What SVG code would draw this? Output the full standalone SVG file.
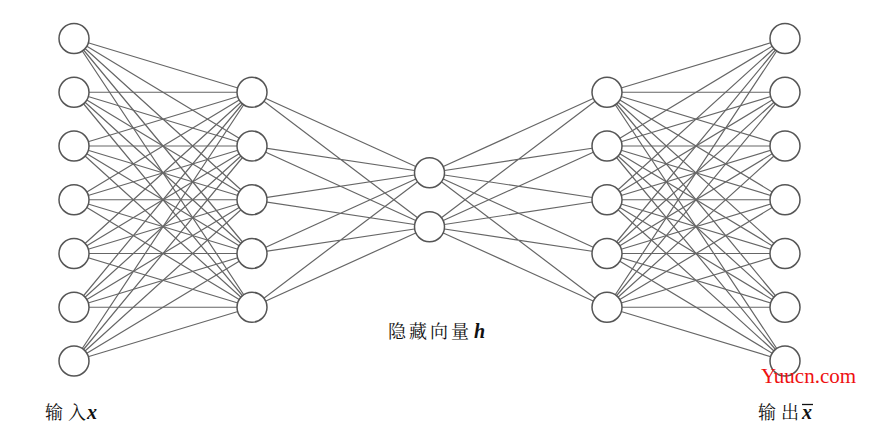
<svg xmlns="http://www.w3.org/2000/svg" width="870" height="432" viewBox="0 0 870 432">
<style>
.c{fill:#fff;stroke:#555;stroke-width:1.5}
.e{fill:none;stroke:#666;stroke-width:1.2}
.t{font-family:"Noto Serif CJK SC","Noto Sans CJK SC",serif;font-size:18px;fill:#111}
.m{font-family:"Liberation Serif",serif;font-style:italic;font-weight:bold;font-size:20px;fill:#111}
.w{font-family:"Liberation Serif",serif;font-size:21px;fill:#ee1111}
</style>
<rect width="870" height="432" fill="#fff"/>
<g id="connectors">
<path class="e" d="M74 38.5L252 92.25M74 38.5L252 146M74 38.5L252 199.75M74 38.5L252 253.5M74 38.5L252 307.25"/>
<path class="e" d="M74 92.25L252 92.25M74 92.25L252 146M74 92.25L252 199.75M74 92.25L252 253.5M74 92.25L252 307.25"/>
<path class="e" d="M74 146L252 92.25M74 146L252 146M74 146L252 199.75M74 146L252 253.5M74 146L252 307.25"/>
<path class="e" d="M74 199.75L252 92.25M74 199.75L252 146M74 199.75L252 199.75M74 199.75L252 253.5M74 199.75L252 307.25"/>
<path class="e" d="M74 253.5L252 92.25M74 253.5L252 146M74 253.5L252 199.75M74 253.5L252 253.5M74 253.5L252 307.25"/>
<path class="e" d="M74 307.25L252 92.25M74 307.25L252 146M74 307.25L252 199.75M74 307.25L252 253.5M74 307.25L252 307.25"/>
<path class="e" d="M74 361L252 92.25M74 361L252 146M74 361L252 199.75M74 361L252 253.5M74 361L252 307.25"/>
<path class="e" d="M252 92.25L429.5 172.75M252 92.25L429.5 226.75M252 146L429.5 172.75M252 146L429.5 226.75M252 199.75L429.5 172.75M252 199.75L429.5 226.75M252 253.5L429.5 172.75M252 253.5L429.5 226.75M252 307.25L429.5 172.75M252 307.25L429.5 226.75"/>
<path class="e" d="M429.5 172.75L607 92.25M429.5 172.75L607 146M429.5 172.75L607 199.75M429.5 172.75L607 253.5M429.5 172.75L607 307.25M429.5 226.75L607 92.25M429.5 226.75L607 146M429.5 226.75L607 199.75M429.5 226.75L607 253.5M429.5 226.75L607 307.25"/>
<path class="e" d="M607 92.25L785 38.5M607 92.25L785 92.25M607 92.25L785 146M607 92.25L785 199.75M607 92.25L785 253.5M607 92.25L785 307.25M607 92.25L785 361"/>
<path class="e" d="M607 146L785 38.5M607 146L785 92.25M607 146L785 146M607 146L785 199.75M607 146L785 253.5M607 146L785 307.25M607 146L785 361"/>
<path class="e" d="M607 199.75L785 38.5M607 199.75L785 92.25M607 199.75L785 146M607 199.75L785 199.75M607 199.75L785 253.5M607 199.75L785 307.25M607 199.75L785 361"/>
<path class="e" d="M607 253.5L785 38.5M607 253.5L785 92.25M607 253.5L785 146M607 253.5L785 199.75M607 253.5L785 253.5M607 253.5L785 307.25M607 253.5L785 361"/>
<path class="e" d="M607 307.25L785 38.5M607 307.25L785 92.25M607 307.25L785 146M607 307.25L785 199.75M607 307.25L785 253.5M607 307.25L785 307.25M607 307.25L785 361"/>
</g>
<g id="in1"><circle class="c" cx="74" cy="38.5" r="15"/></g>
<g id="in2"><circle class="c" cx="74" cy="92.25" r="15"/></g>
<g id="in3"><circle class="c" cx="74" cy="146" r="15"/></g>
<g id="in4"><circle class="c" cx="74" cy="199.75" r="15"/></g>
<g id="in5"><circle class="c" cx="74" cy="253.5" r="15"/></g>
<g id="in6"><circle class="c" cx="74" cy="307.25" r="15"/></g>
<g id="in7"><circle class="c" cx="74" cy="361" r="15"/></g>
<g id="enc1"><circle class="c" cx="252" cy="92.25" r="15"/></g>
<g id="enc2"><circle class="c" cx="252" cy="146" r="15"/></g>
<g id="enc3"><circle class="c" cx="252" cy="199.75" r="15"/></g>
<g id="enc4"><circle class="c" cx="252" cy="253.5" r="15"/></g>
<g id="enc5"><circle class="c" cx="252" cy="307.25" r="15"/></g>
<g id="h1"><circle class="c" cx="429.5" cy="172.75" r="15"/></g>
<g id="h2"><circle class="c" cx="429.5" cy="226.75" r="15"/></g>
<g id="dec1"><circle class="c" cx="607" cy="92.25" r="15"/></g>
<g id="dec2"><circle class="c" cx="607" cy="146" r="15"/></g>
<g id="dec3"><circle class="c" cx="607" cy="199.75" r="15"/></g>
<g id="dec4"><circle class="c" cx="607" cy="253.5" r="15"/></g>
<g id="dec5"><circle class="c" cx="607" cy="307.25" r="15"/></g>
<g id="out1"><circle class="c" cx="785" cy="38.5" r="15"/></g>
<g id="out2"><circle class="c" cx="785" cy="92.25" r="15"/></g>
<g id="out3"><circle class="c" cx="785" cy="146" r="15"/></g>
<g id="out4"><circle class="c" cx="785" cy="199.75" r="15"/></g>
<g id="out5"><circle class="c" cx="785" cy="253.5" r="15"/></g>
<g id="out6"><circle class="c" cx="785" cy="307.25" r="15"/></g>
<g id="out7"><circle class="c" cx="785" cy="361" r="15"/></g>
<g id="label-hidden">
<text class="t" x="388" y="338" letter-spacing="3">隐藏向量</text>
<text class="m" x="474" y="338">h</text>
</g>
<g id="label-input">
<text class="t" x="45" y="419">输</text>
<text class="t" x="68" y="419">入</text>
<text class="m" x="87" y="419">x</text>
</g>
<g id="label-output">
<text class="t" x="758" y="419">输</text>
<text class="t" x="781" y="419">出</text>
<text class="m" x="802" y="419">x</text>
<line x1="802" y1="404.5" x2="813" y2="404.5" stroke="#111" stroke-width="1.3"/>
</g>
<text class="w" x="761" y="383">Yuucn.com</text>
</svg>
